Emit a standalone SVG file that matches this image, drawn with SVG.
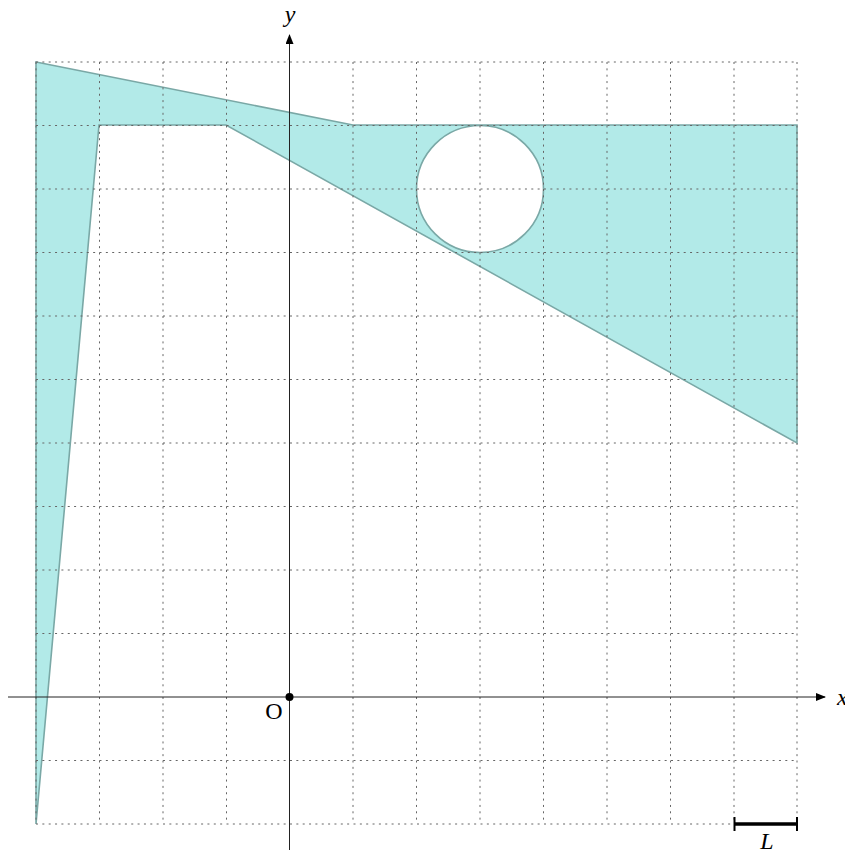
<svg xmlns="http://www.w3.org/2000/svg" width="845" height="850" viewBox="0 0 845 850">
<style>
.grid{stroke:#666;stroke-width:1;stroke-dasharray:2 4.35;fill:none}
.axis{stroke:#222;stroke-width:1;fill:none}
.lbl{font-family:"Liberation Serif","DejaVu Serif",serif;font-size:24px;fill:#000}
.it{font-style:italic}
</style>
<defs>
<marker id="arr" viewBox="0 0 10 8" refX="9" refY="4" markerWidth="10" markerHeight="8" markerUnits="userSpaceOnUse" orient="auto">
<path d="M0,0 L10,4 L0,8 Z" fill="#000"/>
</marker>
</defs>
<g id="shape">
<path d="M36,62 L353,125 L797,125 L797,443 L226,125 L99,125 L36,824 Z M416.5,189 A63.5,63.5 0 1 0 543.5,189 A63.5,63.5 0 1 0 416.5,189 Z" fill="#b2eae8" fill-rule="evenodd" stroke="#7aa8a6" stroke-width="1.6" stroke-linejoin="miter"/>
</g>
<g id="grid" class="grid">
<path d="M36,62V824M99.5,62V824M163,62V824M226.5,62V824M353,62V824M416.5,62V824M480,62V824M543.5,62V824M607,62V824M670.5,62V824M734,62V824M797,62V824"/>
<path d="M36,62H797M36,125.5H797M36,189H797M36,252.5H797M36,316H797M36,379.5H797M36,443H797M36,506.5H797M36,570H797M36,633.5H797M36,760.5H797M36,824H797"/>
</g>
<g id="axes">
<line class="axis" x1="8" y1="697" x2="825" y2="697" marker-end="url(#arr)"/>
<line class="axis" x1="289.5" y1="850" x2="289.5" y2="35" marker-end="url(#arr)"/>
<circle cx="289.5" cy="697" r="4" fill="#000"/>
</g>
<g id="labels">
<text class="lbl it" x="290" y="22" text-anchor="middle">y</text>
<text class="lbl it" x="837" y="705">x</text>
<text class="lbl" x="274" y="719" text-anchor="middle">O</text>
<text class="lbl it" x="767" y="849" text-anchor="middle">L</text>
</g>
<g id="scale">
<line x1="734" y1="824" x2="797" y2="824" stroke="#000" stroke-width="3.5"/>
<line x1="734.5" y1="817" x2="734.5" y2="831" stroke="#000" stroke-width="2"/>
<line x1="797" y1="817" x2="797" y2="831" stroke="#000" stroke-width="2"/>
</g>
</svg>
